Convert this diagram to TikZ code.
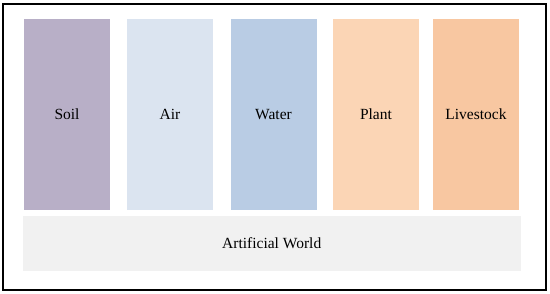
\documentclass[tikz,border=0pt]{standalone}
\usepackage{fontspec}
\setmainfont{Liberation Serif}
\usetikzlibrary{positioning}
\definecolor{SoilGrey}{HTML}{B8AFC7}
\definecolor{AirBlue}{HTML}{DBE4F0}
\definecolor{WaterBlue}{HTML}{B9CCE4}
\definecolor{PlantPeach}{HTML}{FBD5B5}
\definecolor{StockPeach}{HTML}{F8C7A1}
\definecolor{WorldGrey}{HTML}{F1F1F1}

\begin{document}
\begin{tikzpicture}[
    x=1pt, y=-1pt,
    col/.style={rectangle, minimum width=86pt, minimum height=191pt,
                inner sep=0pt, font=\fontsize{15.5}{18}\selectfont},
    base/.style={rectangle, minimum width=498.5pt, minimum height=55pt,
                 inner sep=0pt, font=\fontsize{15.5}{18}\selectfont}
]
  \useasboundingbox (0,0) rectangle (550,294);
  \draw[line width=1.5pt] (3,4) rectangle (546,290);

  \node[col, fill=SoilGrey] (soil) at (67,114.5) {Soil};
  \node[col, fill=AirBlue] (air) at (170,114.5) {Air};
  \node[col, fill=WaterBlue] (water) at (273.5,114.5) {Water};
  \node[col, fill=PlantPeach] (plant) at (376,114.5) {Plant};
  \node[col, fill=StockPeach] (stock) at (476,114.5) {Livestock};

  \node[base, fill=WorldGrey] (world) at (271.75,243.5) {Artificial World};
\end{tikzpicture}
\end{document}
